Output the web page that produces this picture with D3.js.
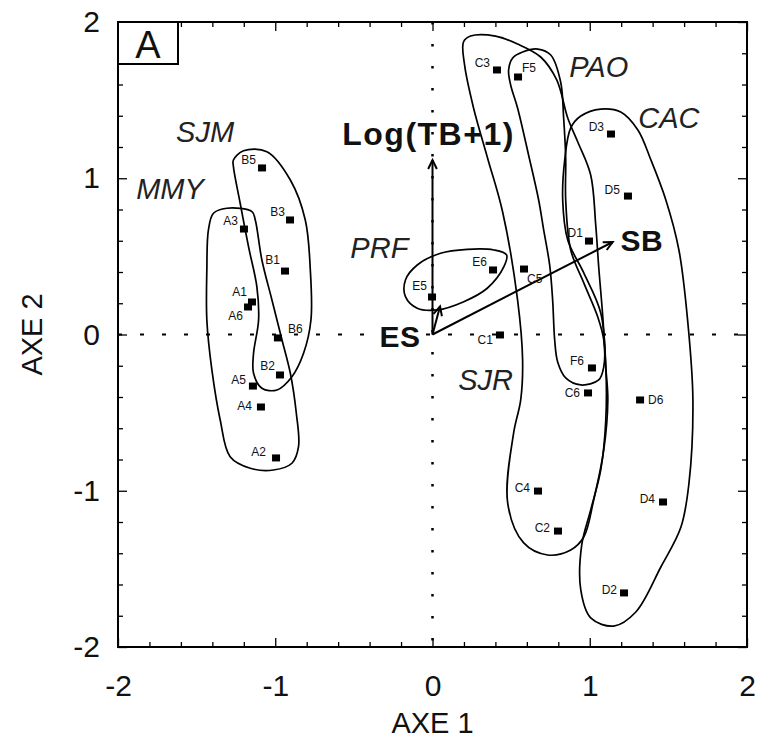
<!DOCTYPE html>
<html>
<head>
<meta charset="utf-8">
<script src="https://cdn.jsdelivr.net/npm/d3@7"></script>
<style>
  html, body { margin: 0; padding: 0; background: #fff; }
  svg { display: block; font-family: "Liberation Sans", Arial, sans-serif; }
</style>
</head>
<body>
<div id="chart"></div>
<script>
// site scores on axes 1 and 2
const sites = ['A1', 'A2', 'A3', 'A4', 'A5', 'A6',
               'B1', 'B2', 'B3', 'B5', 'B6',
               'C1', 'C2', 'C3', 'C4', 'C5', 'C6',
               'D1', 'D2', 'D3', 'D4', 'D5', 'D6',
               'E5', 'E6', 'F5', 'F6'];
const axe1 = [-1.148, -0.995, -1.199, -1.091, -1.142, -1.173,
              -0.938, -0.970, -0.906, -1.084, -0.983,
               0.429,  0.798,  0.410,  0.671,  0.582,  0.989,
               0.995,  1.218,  1.135,  1.466,  1.243,  1.320,
              -0.003,  0.385,  0.544,  1.014];
const axe2 = [ 0.208, -0.790,  0.675, -0.464, -0.330,  0.176,
               0.406, -0.259,  0.733,  1.066, -0.022,
              -0.003, -1.258,  1.693, -1.002,  0.419, -0.374,
               0.598, -1.654,  1.283, -1.072,  0.886, -0.419,
               0.240,  0.413,  1.648, -0.214];

// environmental vectors
const vectorNames = ['Log(TB+1)', 'SB', 'ES'];
const vectorX = [0, 1.146, 0.048];
const vectorY = [1.117, 0.592, 0.18];

// group outlines (hand traced)
const groupNames = ['SJM', 'MMY', 'PRF', 'SJR', 'PAO', 'CAC'];
const groupLabelX = [-1.446, -1.669, -0.338, 0.338, 1.057, 1.503];
const groupLabelY = [1.302, 0.931, 0.554, -0.291, 1.718, 1.386];
const hullSJM = [[-1.266, 1.117], [-1.202, 1.176], [-1.053, 1.170], [-0.904, 0.989], [-0.809, 0.733],
  [-0.777, 0.413], [-0.773, 0.093], [-0.820, -0.120], [-0.894, -0.270], [-0.989, -0.355],
  [-1.085, -0.344], [-1.138, -0.248], [-1.138, -0.120], [-1.106, 0.093], [-1.117, 0.306],
  [-1.170, 0.562], [-1.223, 0.840], [-1.266, 1.074]];
const hullMMY = [[-1.393, 0.776], [-1.308, 0.808], [-1.148, 0.786], [-1.127, 0.733], [-1.085, 0.477],
  [-1.021, 0.221], [-0.957, -0.035], [-0.904, -0.248], [-0.866, -0.504], [-0.852, -0.718],
  [-0.894, -0.824], [-1.011, -0.867], [-1.159, -0.856], [-1.287, -0.782], [-1.350, -0.547],
  [-1.403, -0.227], [-1.435, 0.093], [-1.435, 0.413], [-1.425, 0.669]];
const hullPRF = [[-0.172, 0.349], [-0.097, 0.445], [0.051, 0.520], [0.221, 0.545], [0.390, 0.541],
  [0.471, 0.509], [0.454, 0.434], [0.348, 0.296], [0.199, 0.210], [0.030, 0.157],
  [-0.097, 0.168], [-0.172, 0.242]];
const hullSJR = [[0.204, 1.725], [0.197, 1.872], [0.242, 1.910], [0.401, 1.910], [0.541, 1.859],
  [0.688, 1.776], [0.790, 1.629], [0.860, 1.386], [0.924, 1.232], [1.006, 1.021], [1.038, 0.701],
  [1.057, 0.432], [1.083, 0.112], [1.102, -0.208], [1.115, -0.419], [1.089, -0.739], [1.025, -1.059],
  [0.962, -1.296], [0.879, -1.379], [0.732, -1.411], [0.580, -1.334], [0.478, -1.078], [0.516, -0.630],
  [0.561, -0.419], [0.573, -0.163], [0.541, 0.221], [0.446, 0.784], [0.350, 1.130], [0.261, 1.450]];
const hullPAO = [[0.484, 1.693], [0.510, 1.770], [0.573, 1.808], [0.669, 1.827], [0.752, 1.789],
  [0.815, 1.616], [0.834, 1.386], [0.847, 1.130], [0.847, 0.861], [0.879, 0.541], [0.962, 0.330],
  [1.051, 0.112], [1.089, -0.035], [1.089, -0.208], [1.057, -0.291], [0.943, -0.323], [0.847, -0.278],
  [0.796, -0.176], [0.777, -0.035], [0.764, 0.221], [0.745, 0.445], [0.707, 0.669], [0.675, 0.861],
  [0.611, 1.149], [0.541, 1.450], [0.497, 1.597]];
const hullCAC = [[0.879, 1.322], [0.943, 1.398], [1.070, 1.443], [1.197, 1.424], [1.306, 1.309],
  [1.389, 1.117], [1.484, 0.861], [1.567, 0.541], [1.624, 0.074], [1.656, -0.419], [1.631, -0.951],
  [1.580, -1.232], [1.452, -1.488], [1.293, -1.776], [1.153, -1.866], [1.006, -1.814], [0.943, -1.635],
  [0.949, -1.347], [1.006, -1.123], [1.070, -0.867], [1.102, -0.547], [1.102, -0.208], [1.070, 0.138],
  [0.962, 0.394], [0.860, 0.605], [0.828, 0.861], [0.841, 1.117]];
const hulls = [hullSJM, hullMMY, hullPRF, hullSJR, hullPAO, hullCAC];

const majorTicks = [-2, -1, 0, 1, 2];
const tickLabels = ['-2', '-1', '0', '1', '2'];

// label placement around each marker: [dx, dy, anchor]
const labelPos = {
  A1: [-5, -6, 'end'], A2: [-10, -2, 'end'], A3: [-6, -4, 'end'], A4: [-9, 3, 'end'],
  A5: [-7, -2, 'end'], A6: [-5, 13, 'end'], B1: [-5, -7, 'end'], B2: [-5, -5, 'end'],
  B3: [-5, -4, 'end'], B5: [-6, -4, 'end'], B6: [10, -5, 'start'],
  C1: [-7, 9, 'end'], C2: [-8, 1, 'end'], C3: [-7, -3, 'end'], C4: [-8, 1, 'end'],
  C5: [3, 14, 'start'], C6: [-8, 4, 'end'],
  D1: [-6, -4, 'end'], D2: [-7, 1, 'end'], D3: [-7, -3, 'end'], D4: [-8, 1, 'end'],
  D5: [-8, -2, 'end'], D6: [8, 4, 'start'],
  E5: [-5, -7, 'end'], E6: [-6, -4, 'end'], F5: [4, -5, 'start'], F6: [-8, -3, 'end']
};

const width = 765, height = 747;
const margin = { top: 22, right: 18, bottom: 100, left: 118 };
const innerW = width - margin.left - margin.right;
const innerH = height - margin.top - margin.bottom;

const svg = d3.select('#chart').append('svg')
  .attr('width', width)
  .attr('height', height);

const g = svg.append('g')
  .attr('transform', `translate(${margin.left},${margin.top})`);

const x = d3.scaleLinear().domain([-2, 2]).range([0, innerW]);
const y = d3.scaleLinear().domain([-2, 2]).range([innerH, 0]);

const minorTicks = d3.range(-20, 21, 2).map(d => d / 10).filter(d => !majorTicks.includes(d));

// inward ticks on all four sides
function addTicks(axisFn, transform, values, size, withLabels) {
  const ax = axisFn.tickValues(values).tickSizeInner(-size).tickSizeOuter(0);
  if (withLabels) {
    ax.tickFormat(d => tickLabels[majorTicks.indexOf(d)]);
  } else {
    ax.tickFormat('');
  }
  const sel = g.append('g').attr('transform', transform).call(ax);
  sel.select('.domain').remove();
  sel.selectAll('line').attr('stroke', '#000').attr('stroke-width', 1.3);
  return sel;
}

const bottomAxis = addTicks(d3.axisBottom(x).tickPadding(28), `translate(0,${innerH})`, majorTicks, 9, true);
addTicks(d3.axisBottom(x), `translate(0,${innerH})`, minorTicks, 5, false);
addTicks(d3.axisTop(x), 'translate(0,0)', majorTicks, 9, false);
addTicks(d3.axisTop(x), 'translate(0,0)', minorTicks, 5, false);
const leftAxis = addTicks(d3.axisLeft(y).tickPadding(18), 'translate(0,0)', majorTicks, 9, true);
addTicks(d3.axisLeft(y), 'translate(0,0)', minorTicks, 5, false);
addTicks(d3.axisRight(y), `translate(${innerW},0)`, majorTicks, 9, false);
addTicks(d3.axisRight(y), `translate(${innerW},0)`, minorTicks, 5, false);

[bottomAxis, leftAxis].forEach(a => a.selectAll('text')
  .attr('font-size', '30px')
  .attr('fill', '#111')
  .attr('font-family', '"Liberation Sans", Arial, sans-serif'));

// frame
g.append('rect')
  .attr('width', innerW)
  .attr('height', innerH)
  .attr('fill', 'none')
  .attr('stroke', '#000')
  .attr('stroke-width', 2);

// dotted zero lines
g.append('line')
  .attr('x1', x(0)).attr('x2', x(0))
  .attr('y1', 0).attr('y2', innerH)
  .attr('stroke', '#000').attr('stroke-width', 2.5)
  .attr('stroke-dasharray', '2.5,19.5');
g.append('line')
  .attr('x1', 0).attr('x2', innerW)
  .attr('y1', y(0)).attr('y2', y(0))
  .attr('stroke', '#000').attr('stroke-width', 2)
  .attr('stroke-dasharray', '4,18');

// panel letter
g.append('rect')
  .attr('x', 0).attr('y', 0)
  .attr('width', 60).attr('height', 42)
  .attr('fill', '#fff')
  .attr('stroke', '#000')
  .attr('stroke-width', 2);
g.append('text')
  .attr('x', 30).attr('y', 36)
  .attr('text-anchor', 'middle')
  .attr('font-size', '38px')
  .attr('fill', '#111')
  .text('A');

// group outlines
const outline = d3.line()
  .x(d => x(d[0]))
  .y(d => y(d[1]))
  .curve(d3.curveCatmullRomClosed.alpha(0.5));

g.selectAll('.hull')
  .data(hulls)
  .enter()
  .append('path')
  .attr('class', 'hull')
  .attr('d', outline)
  .attr('fill', 'none')
  .attr('stroke', '#000')
  .attr('stroke-width', 1.7);

g.selectAll('.group-label')
  .data(groupNames)
  .enter()
  .append('text')
  .attr('class', 'group-label')
  .attr('x', (d, i) => x(groupLabelX[i]))
  .attr('y', (d, i) => y(groupLabelY[i]))
  .attr('dy', '0.36em')
  .attr('text-anchor', 'middle')
  .attr('font-size', '29px')
  .attr('font-style', 'italic')
  .attr('fill', '#222')
  .text(d => d);

// vectors with open arrowheads
const vectors = vectorNames.map((name, i) => ({ name, vx: vectorX[i], vy: vectorY[i] }));
const vg = g.selectAll('.vector')
  .data(vectors)
  .enter()
  .append('g')
  .attr('class', 'vector');

vg.append('line')
  .attr('x1', x(0)).attr('y1', y(0))
  .attr('x2', d => x(d.vx)).attr('y2', d => y(d.vy))
  .attr('stroke', '#000')
  .attr('stroke-width', 2);

vg.append('path')
  .attr('d', d => {
    const x1 = x(d.vx), y1 = y(d.vy);
    const a = Math.atan2(y1 - y(0), x1 - x(0));
    const len = 10, spread = 0.45;
    const p1 = [x1 - len * Math.cos(a - spread), y1 - len * Math.sin(a - spread)];
    const p2 = [x1 - len * Math.cos(a + spread), y1 - len * Math.sin(a + spread)];
    return `M${p1[0]},${p1[1]}L${x1},${y1}L${p2[0]},${p2[1]}`;
  })
  .attr('fill', 'none')
  .attr('stroke', '#000')
  .attr('stroke-width', 2);

// vector labels
const vecLabelX = [-0.025, 1.196, -0.076];
const vecLabelY = [1.289, 0.605, -0.01];
const vecAnchor = ['middle', 'start', 'end'];
g.selectAll('.vector-label')
  .data(vectorNames)
  .enter()
  .append('text')
  .attr('class', 'vector-label')
  .attr('x', (d, i) => x(vecLabelX[i]))
  .attr('y', (d, i) => y(vecLabelY[i]))
  .attr('dy', '0.36em')
  .attr('text-anchor', (d, i) => vecAnchor[i])
  .attr('font-size', (d, i) => i === 0 ? '32px' : '30px')
  .attr('letter-spacing', (d, i) => i === 0 ? '1.5px' : '0.5px')
  .attr('font-weight', 'bold')
  .attr('fill', '#111')
  .text(d => d);

// site markers
const points = sites.map((s, i) => ({ site: s, a1: axe1[i], a2: axe2[i] }));
g.selectAll('.site')
  .data(points)
  .enter()
  .append('rect')
  .attr('class', 'site')
  .attr('x', d => x(d.a1) - 4)
  .attr('y', d => y(d.a2) - 3.5)
  .attr('width', 8)
  .attr('height', 7)
  .attr('fill', '#000');

g.selectAll('.site-label')
  .data(points)
  .enter()
  .append('text')
  .attr('class', 'site-label')
  .attr('x', d => x(d.a1) + labelPos[d.site][0])
  .attr('y', d => y(d.a2) + labelPos[d.site][1])
  .attr('text-anchor', d => labelPos[d.site][2])
  .attr('font-size', '12px')
  .attr('fill', '#111')
  .text(d => d.site);

// axis titles
svg.append('text')
  .attr('x', margin.left + x(0))
  .attr('y', 733)
  .attr('text-anchor', 'middle')
  .attr('font-size', '29px')
  .attr('fill', '#111')
  .text('AXE 1');

svg.append('text')
  .attr('transform', `translate(42,${margin.top + y(0)}) rotate(-90)`)
  .attr('text-anchor', 'middle')
  .attr('font-size', '29px')
  .attr('fill', '#111')
  .text('AXE 2');
</script>
</body>
</html>
